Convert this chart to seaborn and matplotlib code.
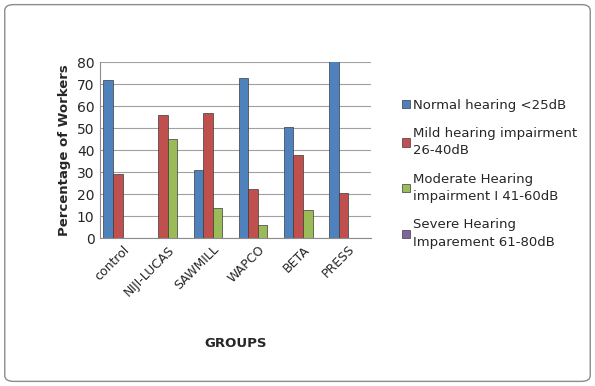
import pandas as pd
import matplotlib.pyplot as plt
import seaborn as sns
from matplotlib.patches import FancyBboxPatch

groups = ["control", "NIJI-LUCAS", "SAWMILL", "WAPCO", "BETA", "PRESS"]
levels = ["Normal hearing <25dB",
          "Mild hearing impairment\n26-40dB",
          "Moderate Hearing\nimpairment I 41-60dB",
          "Severe Hearing\nImparement 61-80dB"]
normal = [72, 0, 31, 73, 50.5, 80.5]
mild = [29, 56, 57, 22.5, 38, 20.5]
moderate = [0, 45, 13.5, 6, 13, 0]
severe = [0, 0, 0, 0, 0, 0]
colors = ["#4F81BD", "#C0504D", "#9BBB59", "#8064A2"]

#   --  long form table for seaborn
rows = []
for lvl, vals in zip(levels, [normal, mild, moderate, severe]):
    for g, v in zip(groups, vals):
        rows.append({"group": g, "level": lvl, "pct": v})
df = pd.DataFrame(rows)

sns.set_style("white")
fig = plt.figure(figsize=(5.95, 3.86), dpi=100)
ax = fig.add_axes([0.168, 0.383, 0.455, 0.456])

sns.barplot(data=df, x="group", y="pct", hue="level", palette=colors,
            saturation=1, width=0.85, edgecolor="#3a3a3a", linewidth=0.5, ax=ax)

ax.set_ylim(0, 80)
ax.set_yticks(range(0, 81, 10))
ax.yaxis.grid(True, color="#a0a0a0", linewidth=0.8)
ax.set_axisbelow(True)
for s in ["top", "right"]:
    ax.spines[s].set_visible(False)
ax.spines["left"].set_color("#8c8c8c")
ax.spines["bottom"].set_color("#8c8c8c")
ax.tick_params(axis="y", labelsize=10, length=0, pad=4)
ax.tick_params(axis="x", labelsize=9, length=0)
plt.setp(ax.get_xticklabels(), rotation=45, ha="right", rotation_mode="anchor")
ax.set_ylabel("Percentage of Workers", fontsize=9.5, fontweight="bold")
ax.set_xlabel("GROUPS", fontsize=9.5, fontweight="bold", labelpad=28)

handles, labels = ax.get_legend_handles_labels()
ax.get_legend().remove()
leg = fig.legend(handles, labels, loc="upper left", bbox_to_anchor=(0.655, 0.775),
                 frameon=False, fontsize=9.5, handlelength=0.6, handleheight=0.6,
                 handletextpad=0.3, labelspacing=1.15)
for t in leg.get_texts():
    t.set_linespacing(1.45)

fig.patches.append(FancyBboxPatch((0.008, 0.012), 0.984, 0.976,
                                  boxstyle="round,pad=0,rounding_size=0.015",
                                  transform=fig.transFigure, fill=False,
                                  edgecolor="#8c8c8c", linewidth=1.0))

fig.savefig("out.png", dpi=100)
